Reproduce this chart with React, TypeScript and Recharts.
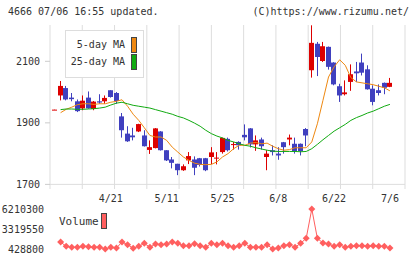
import React from 'react'
import { ComposedChart, LineChart, Bar, Line, XAxis, YAxis, CartesianGrid, ReferenceLine } from 'recharts'

// trading days, 4/7 .. 7/6 (index -1 .. 59)
const dates: string[] = [
  '4/7', '4/8', '4/9', '4/10', '4/13', '4/14', '4/15', '4/16', '4/17', '4/20',
  '4/21', '4/22', '4/23', '4/24', '4/27', '4/28', '4/30', '5/1', '5/7', '5/8',
  '5/11', '5/12', '5/13', '5/14', '5/15', '5/18', '5/19', '5/20', '5/21', '5/22',
  '5/25', '5/26', '5/27', '5/28', '5/29', '6/1', '6/2', '6/3', '6/4', '6/5',
  '6/8', '6/9', '6/10', '6/11', '6/12', '6/15', '6/16', '6/17', '6/18', '6/19',
  '6/22', '6/23', '6/24', '6/25', '6/26', '6/29', '6/30', '7/1', '7/2', '7/3',
  '7/6'
]
const tickDays: string[] = ['4/21', '5/11', '5/25', '6/8', '6/22', '7/6']

const opens: number[] = [
  1943, 1989, 2013, 1982, 1970, 1947, 1982, 1945, 1970, 1970,
  2006, 1997, 1921, 1865, 1859, 1872, 1859, 1812, 1818, 1872,
  1811, 1781, 1767, 1746, 1778, 1781, 1785, 1785, 1789, 1786,
  1805, 1848, 1829, 1838, 1861, 1882, 1830, 1846, 1789, 1811,
  1800, 1837, 1846, 1832, 1832, 1880, 2071, 2157, 2101, 2147,
  2096, 2019, 1993, 2033, 2067, 2096, 2074, 2011, 2006, 2030,
  2017
]
const closes: number[] = [
  1943, 2020, 1976, 1977, 1938, 1972, 1947, 1969, 1966, 1981,
  1984, 1971, 1876, 1840, 1853, 1896, 1824, 1821, 1882, 1811,
  1778, 1770, 1746, 1759, 1792, 1754, 1763, 1746, 1804, 1787,
  1851, 1811, 1831, 1827, 1853, 1830, 1843, 1824, 1800, 1805,
  1794, 1821, 1852, 1808, 1808, 1859, 2160, 2114, 2149, 2082,
  2025, 1989, 1999, 2058, 2061, 2063, 2009, 1968, 1997, 2014,
  2030
]
const highs: number[] = [
  1943, 2036, 2020, 1997, 1976, 1989, 2002, 1971, 1993, 1989,
  2006, 2000, 1932, 1889, 1884, 1897, 1876, 1843, 1883, 1873,
  1811, 1789, 1767, 1765, 1805, 1791, 1786, 1786, 1821, 1805,
  1852, 1852, 1838, 1840, 1895, 1883, 1859, 1852, 1811, 1827,
  1821, 1838, 1862, 1852, 1833, 1883, 2217, 2163, 2163, 2148,
  2097, 2027, 2038, 2090, 2098, 2125, 2087, 2022, 2025, 2031,
  2046
]
const lows: number[] = [
  1942, 1973, 1973, 1970, 1935, 1941, 1946, 1941, 1962, 1962,
  1982, 1962, 1852, 1838, 1843, 1870, 1823, 1799, 1817, 1810,
  1776, 1752, 1730, 1744, 1766, 1730, 1758, 1743, 1766, 1765,
  1800, 1807, 1813, 1813, 1843, 1820, 1809, 1813, 1746, 1794,
  1780, 1800, 1827, 1800, 1794, 1824, 2047, 2052, 2098, 2073,
  2022, 1968, 1989, 2004, 2033, 2054, 2008, 1957, 1989, 1993,
  2016
]
const ma5: (number | null)[] = [
  null,
  1933, 1944, 1951, 1959, 1962, 1962, 1960, 1962, 1962, 1967,
  1970, 1975, 1954, 1928, 1908, 1884, 1859, 1854, 1854, 1843,
  1821, 1805, 1789, 1778, 1769, 1765, 1764, 1765, 1773, 1789,
  1800, 1816, 1827, 1827, 1834, 1836, 1832, 1834, 1824, 1816,
  1811, 1813, 1819, 1819, 1819, 1838, 1897, 1973, 2049, 2082,
  2105, 2087, 2047, 2033, 2030, 2027, 2024, 2019, 2014, 2004
]
const ma25: (number | null)[] = [
  null,
  1943, 1945, 1945, 1944, 1944, 1945, 1946, 1948, 1951, 1958,
  1964, 1967, 1962, 1957, 1954, 1951, 1948, 1943, 1938, 1933,
  1928, 1921, 1916, 1908, 1899, 1889, 1876, 1865, 1857, 1851,
  1843, 1838, 1832, 1827, 1824, 1819, 1815, 1811, 1808, 1807,
  1807, 1807, 1807, 1806, 1807, 1816, 1830, 1845, 1859, 1873,
  1884, 1895, 1908, 1917, 1924, 1932, 1938, 1946, 1954, 1960
]
const volumes: (number | null)[] = [
  null,
  1440000, 810000, 670000, 670000, 810000, 770000, 670000, 670000, 428800, 670000,
  570000, 1440000, 1050000, 530000, 810000, 1250000, 670000, 1150000, 1050000, 1150000,
  1440000, 1250000, 910000, 910000, 1200000, 910000, 670000, 1250000, 1050000, 1250000,
  910000, 670000, 910000, 1250000, 670000, 670000, 670000, 1050000, 430000, 570000,
  910000, 1050000, 670000, 1250000, 1970000, 6210300, 1970000, 1300000, 1150000, 810000,
  1050000, 670000, 810000, 910000, 910000, 810000, 910000, 810000, 810000, 570000
]

const RED = '#dd0000'
const BLUE = '#4040bf'
const ORANGE = '#ee8811'
const GREEN = '#11aa11'
const VOL = '#ff5f5f'
const FONT = '"DejaVu Sans Mono", monospace'

const rows = dates.map((d, k) => ({
  i: k - 1,
  date: d,
  open: opens[k],
  close: closes[k],
  high: highs[k],
  low: lows[k],
  ma5: ma5[k],
  ma25: ma25[k],
  vol: volumes[k]
}))

const tickIdx = tickDays.map(t => dates.indexOf(t) - 1)

const Candle = (props: any) => {
  const { x, y, width, height, payload } = props
  const { open, close, high, low } = payload
  const color = close >= open ? RED : BLUE
  const span = high - low
  const k = span > 0 ? height / span : 0
  const yOf = (v: number) => y + (high - v) * k
  const top = yOf(Math.max(open, close))
  const bottom = yOf(Math.min(open, close))
  const left = Math.round(x + width / 2 - 2.5)
  return (
    <g>
      <line x1={left + 2.5} x2={left + 2.5} y1={y} y2={y + height} stroke={color} strokeWidth={1} />
      <rect x={left} y={top} width={5} height={Math.max(bottom - top, 1)} fill={color} />
    </g>
  )
}

const Diamond = (props: any) => {
  const { cx, cy, index } = props
  if (cx == null || cy == null) return <g key={index} />
  return <polygon key={index} points={`${cx},${cy - 3.5} ${cx + 3.5},${cy} ${cx},${cy + 3.5} ${cx - 3.5},${cy}`} fill={VOL} />
}

const gridX = ({ offset }: any) =>
  Array.from({ length: 12 }, (_, k) => offset.left + (k * offset.width) / 11)

const tickStyle = { fontSize: 10, fontFamily: FONT, fill: '#333' }

const App: React.FC = () => {
  return (
    <div style={{ position: 'relative', width: 420, height: 259, background: '#fff', fontFamily: FONT, color: '#333', fontSize: 10 }}>
      <style>{'body{margin:0}'}</style>
      <div style={{ position: 'absolute', left: 8, top: 6, lineHeight: '12px', whiteSpace: 'pre' }}>4666 07/06 16:55 updated.</div>
      <div style={{ position: 'absolute', right: 11, top: 6, lineHeight: '12px', whiteSpace: 'pre' }}>(C)https://www.rizumu.net/</div>

      <div style={{ position: 'absolute', left: 0, top: 0 }}>
        <ComposedChart width={420} height={210} data={rows} margin={{ top: 25, right: 15, bottom: 0, left: 0 }}>
          <CartesianGrid horizontal={false} stroke="#ddd" verticalCoordinatesGenerator={gridX} />
          <XAxis
            type="number"
            dataKey="i"
            domain={[-1.9, 61.7]}
            ticks={tickIdx}
            tickFormatter={(v: number) => dates[v + 1]}
            axisLine={false}
            tickLine={false}
            tickSize={0}
            tickMargin={6}
            height={21}
            tick={tickStyle}
            interval={0}
          />
          <YAxis
            domain={[1685, 2218]}
            ticks={[1700, 1900, 2100]}
            width={50}
            axisLine={false}
            tickLine={{ stroke: '#ccc' }}
            tickSize={5}
            tickMargin={5}
            tick={tickStyle}
            allowDataOverflow
          />
          <ReferenceLine y={1700} stroke="#ddd" />
          <Bar dataKey={(d: any) => [d.low, d.high]} barSize={5} shape={<Candle />} isAnimationActive={false} />
          <Line dataKey="ma5" stroke={ORANGE} strokeWidth={1} dot={false} isAnimationActive={false} />
          <Line dataKey="ma25" stroke={GREEN} strokeWidth={1} dot={false} isAnimationActive={false} />
        </ComposedChart>
      </div>

      <div style={{ position: 'absolute', left: 0, top: 200 }}>
        <LineChart width={420} height={59} data={rows} margin={{ top: 9, right: 15, bottom: 10, left: 0 }}>
          <XAxis type="number" dataKey="i" domain={[-1.9, 61.7]} hide />
          <YAxis
            domain={[428800, 6210300]}
            ticks={[428800, 3319550, 6210300]}
            width={50}
            axisLine={false}
            tickLine={false}
            tickSize={0}
            tickMargin={6}
            tick={tickStyle}
            interval={0}
          />
          <Line dataKey="vol" stroke={VOL} strokeWidth={1} dot={<Diamond />} isAnimationActive={false} />
        </LineChart>
      </div>

      <div style={{ position: 'absolute', left: 65, top: 30, width: 77, height: 46, border: '1px solid #ddd', background: '#fff' }} />
      <div style={{ position: 'absolute', left: 60, width: 65, top: 39, lineHeight: '12px', textAlign: 'right' }}>5-day MA</div>
      <div style={{ position: 'absolute', left: 131, top: 37, width: 4, height: 14, background: ORANGE, border: '1px solid #444' }} />
      <div style={{ position: 'absolute', left: 60, width: 65, top: 56, lineHeight: '12px', textAlign: 'right' }}>25-day MA</div>
      <div style={{ position: 'absolute', left: 131, top: 54, width: 4, height: 14, background: GREEN, border: '1px solid #444' }} />

      <div style={{ position: 'absolute', left: 59, top: 215, lineHeight: '14px', fontSize: 11 }}>Volume</div>
      <div style={{ position: 'absolute', left: 101, top: 213, width: 4, height: 14, background: VOL, border: '1px solid #444' }} />
    </div>
  )
}

export default App
